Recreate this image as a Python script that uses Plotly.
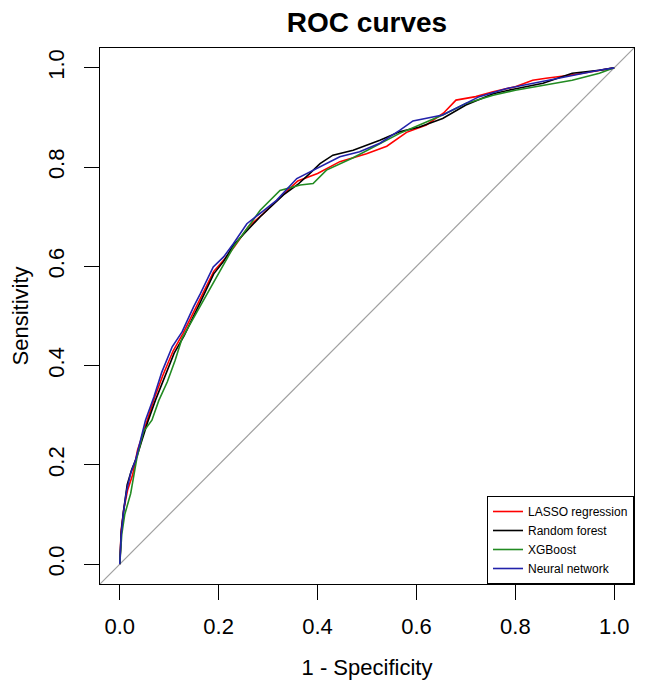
import plotly.graph_objects as go

# ---- data ----
lasso_fpr = [0, 0.003, 0.008, 0.016, 0.026, 0.036, 0.046, 0.056, 0.07, 0.087, 0.108, 0.128, 0.15, 0.165, 0.19, 0.212, 0.232, 0.26, 0.29, 0.32, 0.36, 0.40, 0.445, 0.499, 0.54, 0.58, 0.62, 0.655, 0.68, 0.72, 0.755, 0.80, 0.835, 0.862, 0.91, 0.96, 1.0]
lasso_tpr = [0, 0.07, 0.11, 0.15, 0.18, 0.23, 0.26, 0.29, 0.335, 0.38, 0.43, 0.465, 0.51, 0.54, 0.59, 0.615, 0.64, 0.68, 0.706, 0.735, 0.772, 0.787, 0.811, 0.827, 0.842, 0.87, 0.885, 0.909, 0.935, 0.942, 0.952, 0.962, 0.975, 0.979, 0.985, 0.993, 1.0]

rf_fpr = [0, 0.003, 0.008, 0.015, 0.024, 0.034, 0.045, 0.056, 0.072, 0.09, 0.11, 0.13, 0.15, 0.163, 0.19, 0.21, 0.23, 0.26, 0.284, 0.331, 0.36, 0.384, 0.405, 0.431, 0.472, 0.526, 0.566, 0.606, 0.653, 0.70, 0.755, 0.801, 0.856, 0.915, 0.97, 1.0]
rf_tpr = [0, 0.065, 0.11, 0.16, 0.19, 0.215, 0.25, 0.285, 0.33, 0.375, 0.425, 0.46, 0.50, 0.528, 0.585, 0.61, 0.643, 0.675, 0.70, 0.744, 0.765, 0.787, 0.807, 0.824, 0.834, 0.854, 0.871, 0.881, 0.898, 0.925, 0.948, 0.958, 0.969, 0.989, 0.995, 1.0]

xgb_fpr = [0, 0.004, 0.01, 0.022, 0.035, 0.048, 0.065, 0.079, 0.096, 0.112, 0.126, 0.143, 0.169, 0.203, 0.23, 0.26, 0.284, 0.324, 0.365, 0.391, 0.418, 0.472, 0.526, 0.566, 0.606, 0.653, 0.70, 0.755, 0.80, 0.856, 0.915, 0.97, 1.0]
xgb_tpr = [0, 0.06, 0.10, 0.142, 0.216, 0.267, 0.29, 0.33, 0.367, 0.411, 0.455, 0.485, 0.532, 0.592, 0.639, 0.68, 0.713, 0.753, 0.764, 0.767, 0.794, 0.819, 0.848, 0.868, 0.885, 0.905, 0.928, 0.945, 0.955, 0.965, 0.975, 0.989, 1.0]

nn_fpr = [0, 0.003, 0.007, 0.0135, 0.022, 0.032, 0.042, 0.052, 0.069, 0.085, 0.106, 0.126, 0.149, 0.163, 0.189, 0.21, 0.23, 0.257, 0.284, 0.317, 0.358, 0.391, 0.418, 0.445, 0.485, 0.526, 0.566, 0.593, 0.653, 0.727, 0.781, 0.835, 0.902, 0.969, 1.0]
nn_tpr = [0, 0.06, 0.102, 0.146, 0.183, 0.21, 0.25, 0.29, 0.337, 0.387, 0.438, 0.468, 0.518, 0.545, 0.599, 0.619, 0.646, 0.686, 0.707, 0.733, 0.777, 0.794, 0.807, 0.821, 0.831, 0.848, 0.874, 0.893, 0.905, 0.942, 0.958, 0.969, 0.982, 0.995, 1.0]

series_names = ["LASSO regression", "Random forest", "XGBoost", "Neural network"]
series_colors = ["#FF0000", "#000000", "#228B22", "#2222AA"]
diag_x = [-0.04, 1.04]
diag_y = [-0.04, 1.04]
tick_vals = [0.0, 0.2, 0.4, 0.6, 0.8, 1.0]
tick_text = ["0.0", "0.2", "0.4", "0.6", "0.8", "1.0"]

FONT = "Arial, Liberation Sans, sans-serif"

fig = go.Figure()
fig.add_trace(go.Scatter(x=diag_x, y=diag_y, mode="lines",
                         line=dict(color="#A0A0A0", width=1.2),
                         showlegend=False, hoverinfo="skip"))

all_x = [lasso_fpr, rf_fpr, xgb_fpr, nn_fpr]
all_y = [lasso_tpr, rf_tpr, xgb_tpr, nn_tpr]
for name, col, xs, ys in zip(series_names, series_colors, all_x, all_y):
    fig.add_trace(go.Scatter(x=xs, y=ys, mode="lines", name=name,
                             line=dict(color=col, width=1.6)))

axis_common = dict(
    range=[-0.04, 1.04], tickvals=tick_vals, ticktext=tick_text,
    ticks="outside", ticklen=15, tickwidth=1.2, tickcolor="black",
    showgrid=False, zeroline=False, showline=True, linecolor="black",
    linewidth=1.2, mirror=True, automargin=True,
    tickfont=dict(family=FONT, size=22, color="black"),
)

# the page body adds an 8px offset, so the figure is 8px smaller than the window
fig.update_layout(
    width=641, height=684,
    margin=dict(l=92, r=15, t=40, b=108, autoexpand=False),
    plot_bgcolor="white", paper_bgcolor="white",
    title=dict(text="<b>ROC curves</b>", x=0.5, xref="paper", xanchor="center",
               y=0.979, yanchor="middle", yref="container",
               font=dict(family=FONT, size=28, color="black")),
    xaxis=dict(**axis_common, ticklabelstandoff=7,
               title=dict(text="1 - Specificity", standoff=22,
                          font=dict(family=FONT, size=22, color="black"))),
    yaxis=dict(**axis_common, tickangle=-90, ticklabelstandoff=11,
               title=dict(text="Sensitivity", standoff=24,
                          font=dict(family=FONT, size=22, color="black"))),
    legend=dict(x=1, y=0, xanchor="right", yanchor="bottom",
                bordercolor="black", borderwidth=1, bgcolor="white",
                font=dict(family=FONT, size=12, color="black"),
                itemwidth=30, tracegroupgap=0),
    showlegend=True,
)

fig.write_html("out.html")
